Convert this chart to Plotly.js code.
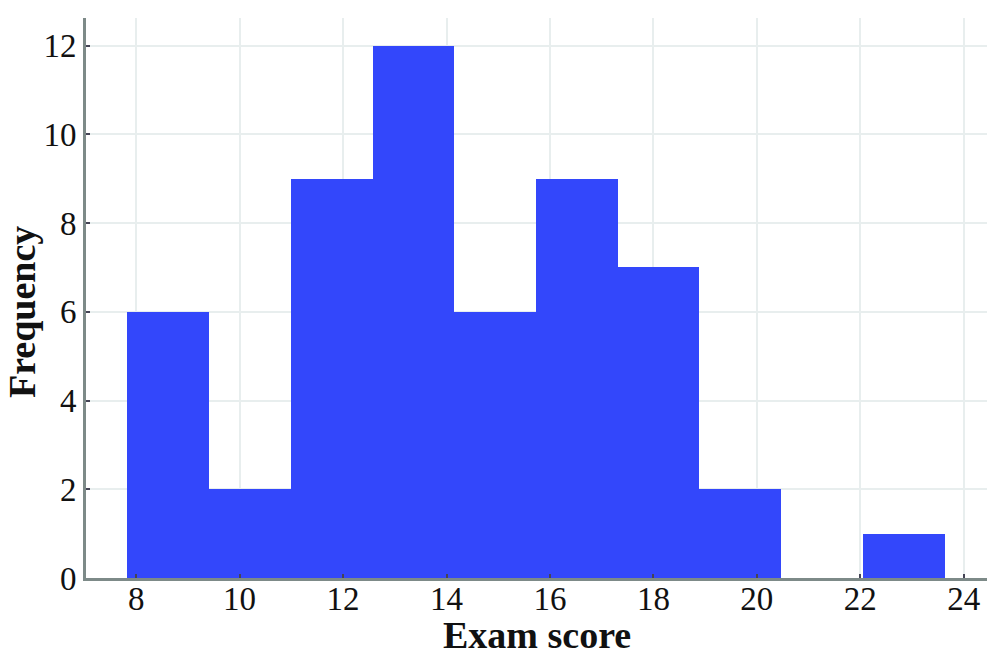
<!DOCTYPE html>
<html>
<head>
<meta charset="utf-8">
<script src="https://cdn.plot.ly/plotly-3.0.1.min.js"></script>
<style>html,body{margin:0;padding:0;background:#fff;}#chart{width:1000px;height:655px;}</style>
</head>
<body>
<div id="chart"></div>
<script>
// Bin edges (exam score) and frequencies
const binEdges = [7.83, 9.41, 10.99, 12.57, 14.15, 15.73, 17.31, 18.89, 20.47, 22.05, 23.63];
const frequencies = [6, 2, 9, 12, 6, 9, 7, 2, 0, 1];
const xTickVals = [8, 10, 12, 14, 16, 18, 20, 22, 24];
const yTickVals = [0, 2, 4, 6, 8, 10, 12];
const xTitle = 'Exam score';
const yTitle = 'Frequency';

const centers = [], widths = [];
for (let i = 0; i < frequencies.length; i++) {
  centers.push((binEdges[i] + binEdges[i + 1]) / 2);
  widths.push(binEdges[i + 1] - binEdges[i]);
}

const trace = {
  type: 'bar',
  x: centers,
  y: frequencies,
  width: widths,
  marker: {color: '#3347fb', line: {width: 0}},
  hoverinfo: 'x+y'
};

const fontFam = '"Liberation Serif", "DejaVu Serif", serif';
const layout = {
  width: 1000, height: 655,
  margin: {l: 86, r: 13, t: 18, b: 77},
  paper_bgcolor: '#ffffff',
  plot_bgcolor: '#ffffff',
  showlegend: false,
  bargap: 0,
  font: {family: fontFam, color: '#111'},
  xaxis: {
    range: [7.03, 24.45],
    tickvals: xTickVals,
    ticktext: xTickVals.map(String),
    tickfont: {family: fontFam, size: 33, color: '#111'},
    ticklabelstandoff: -11,
    showgrid: true, gridcolor: '#e8eeee', gridwidth: 2,
    zeroline: false,
    showline: true, linecolor: '#7d8a88', linewidth: 3,
    ticks: 'inside', ticklen: 4, tickcolor: '#445', tickwidth: 2
  },
  yaxis: {
    range: [0, 12.62],
    tickvals: yTickVals,
    ticktext: yTickVals.map(String),
    tickfont: {family: fontFam, size: 33, color: '#111'},
    showgrid: true, gridcolor: '#e8eeee', gridwidth: 2,
    zeroline: false,
    showline: true, linecolor: '#7d8a88', linewidth: 3,
    ticks: 'inside', ticklen: 4, tickcolor: '#445', tickwidth: 2
  },
  annotations: [
    {text: '<b>' + xTitle + '</b>', xref: 'paper', yref: 'paper', x: 0.5, y: -0.102,
     xanchor: 'center', yanchor: 'middle', showarrow: false,
     font: {family: fontFam, size: 38, color: '#111'}},
    {text: '<b>' + yTitle + '</b>', xref: 'paper', yref: 'paper', x: -0.071, y: 0.475,
     xanchor: 'center', yanchor: 'middle', showarrow: false, textangle: -90,
     font: {family: fontFam, size: 38, color: '#111'}}
  ]
};

Plotly.newPlot('chart', [trace], layout, {displayModeBar: false, staticPlot: true});
</script>
</body>
</html>
